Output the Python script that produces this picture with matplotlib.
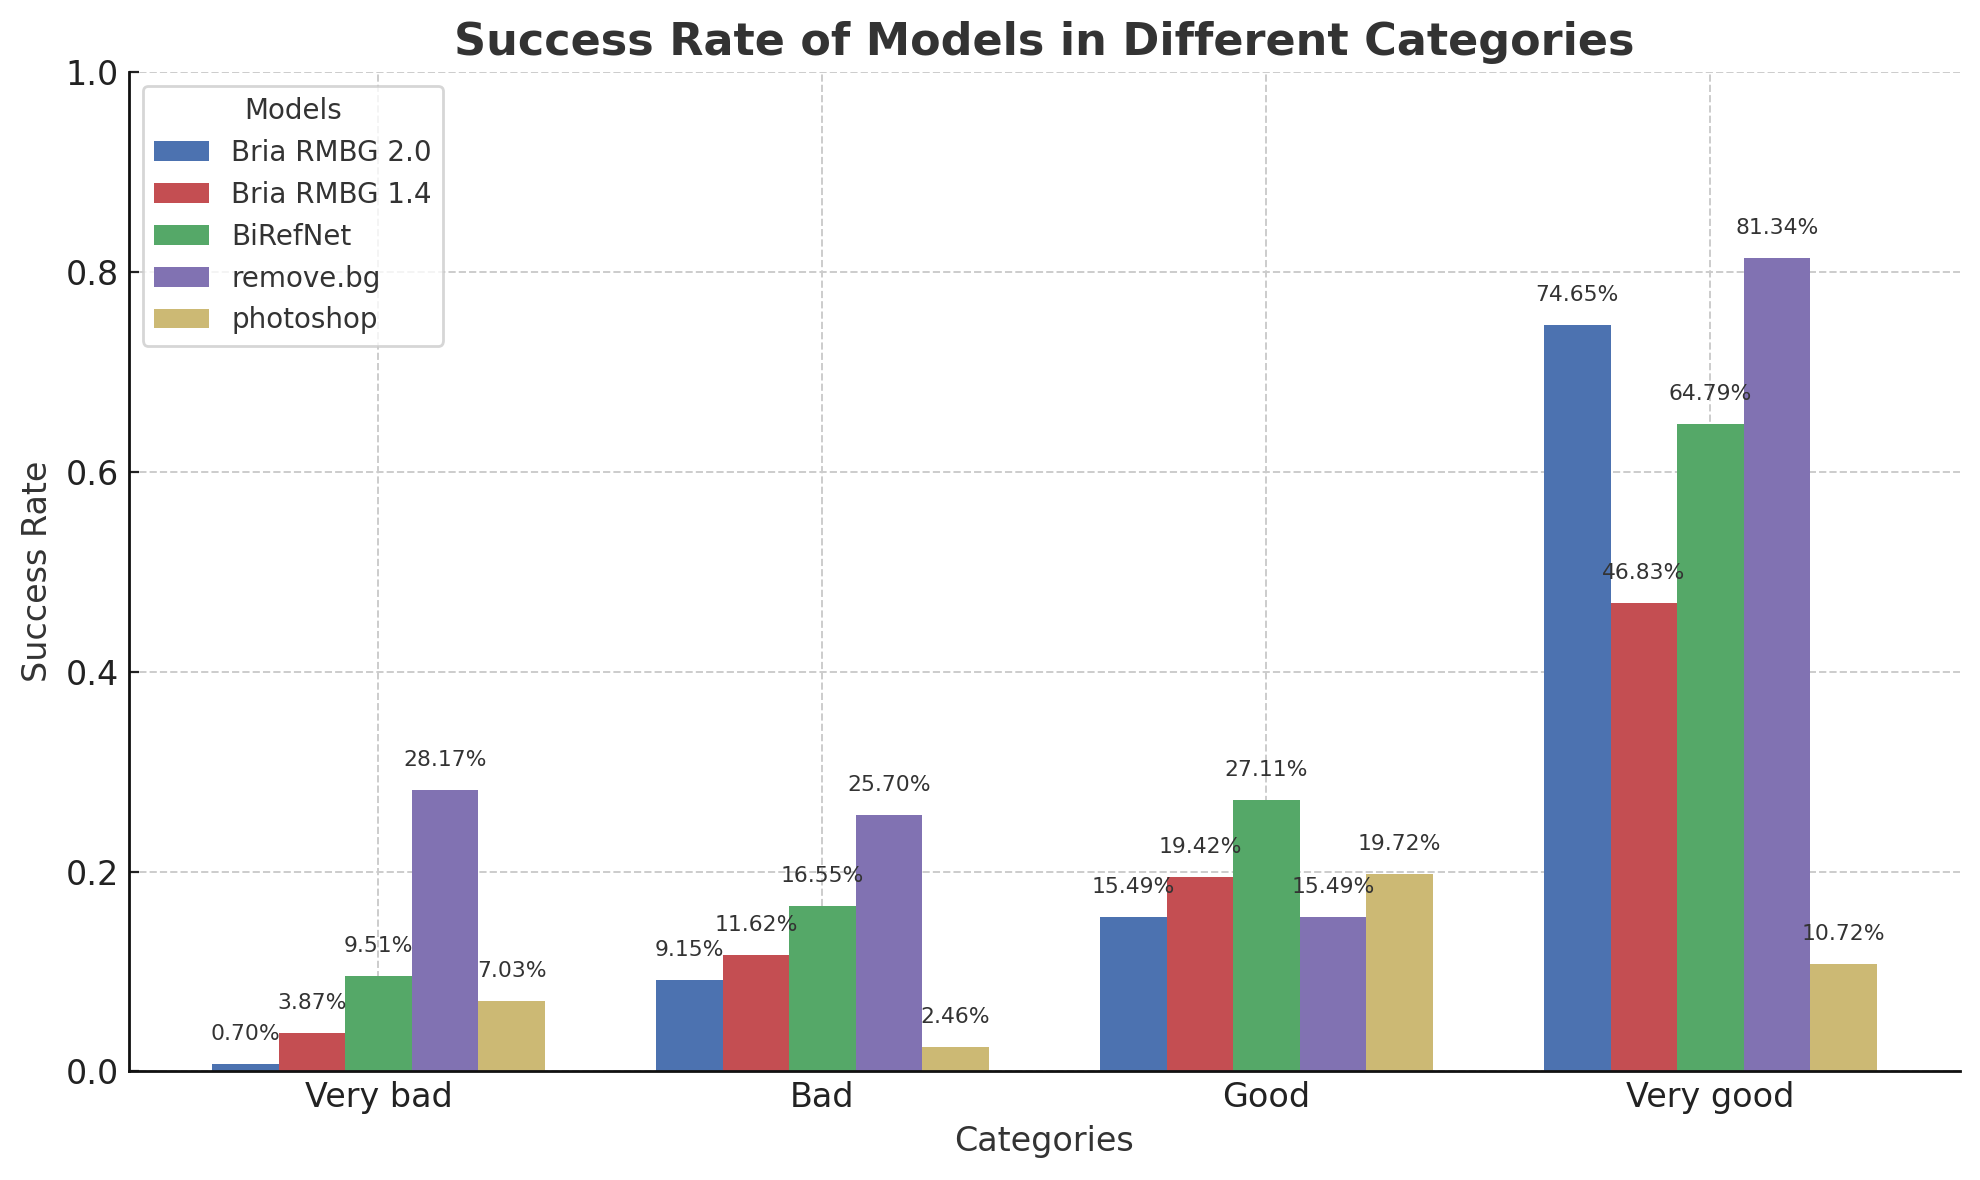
import numpy as np
import matplotlib
matplotlib.use("Agg")
import matplotlib.pyplot as plt

categories = ["Very bad", "Bad", "Good", "Very good"]
models = ["Bria RMBG 2.0", "Bria RMBG 1.4", "BiRefNet", "remove.bg", "photoshop"]

bria_20 = [0.0070, 0.0915, 0.1549, 0.7465]
bria_14 = [0.0387, 0.1162, 0.1942, 0.4683]
birefnet = [0.0951, 0.1655, 0.2711, 0.6479]
removebg = [0.2817, 0.2570, 0.1549, 0.8134]
photoshop = [0.0703, 0.0246, 0.1972, 0.1072]

colors = ["#4C72B0", "#C44E52", "#55A868", "#8172B2", "#CCB974"]

text_color = "#333333"
plt.rcParams["text.color"] = text_color
plt.rcParams["axes.labelcolor"] = text_color

fig, ax = plt.subplots(figsize=(9.9, 5.9), dpi=200)
fig.subplots_adjust(left=0.065, right=0.99, top=0.939, bottom=0.092)

x = np.arange(len(categories))
width = 0.15
series = [bria_20, bria_14, birefnet, removebg, photoshop]

for i, (name, vals) in enumerate(zip(models, series)):
    pos = x + (i - 2) * width
    bars = ax.bar(pos, vals, width, label=name, color=colors[i], zorder=2)
    for b, v in zip(bars, vals):
        ax.text(b.get_x() + b.get_width() / 2, v + 0.02, f"{v:.2%}",
                ha="center", va="bottom", fontsize=7.9, color=text_color)

ax.set_ylim(0, 1.0)
ax.set_xticks(x)
ax.set_xticklabels(categories)
ax.set_title("Success Rate of Models in Different Categories",
             fontsize=16, fontweight="bold", color=text_color)
ax.set_xlabel("Categories", fontsize=12)
ax.set_ylabel("Success Rate", fontsize=12)
ax.tick_params(axis="both", direction="in", labelsize=12, colors="#222222",
               labelcolor="#222222")
ax.grid(True, linestyle="--", color="#cccccc", linewidth=0.7, zorder=0)
ax.set_axisbelow(True)
for s in ["top", "right"]:
    ax.spines[s].set_visible(False)
for s in ["left", "bottom"]:
    ax.spines[s].set_color("#111111")
    ax.spines[s].set_linewidth(1.0)

leg = ax.legend(title="Models", loc="upper left", fontsize=10,
                title_fontsize=10, frameon=True, fancybox=True)
leg.get_frame().set_edgecolor("#cccccc")

fig.savefig("out.png", dpi=200)
